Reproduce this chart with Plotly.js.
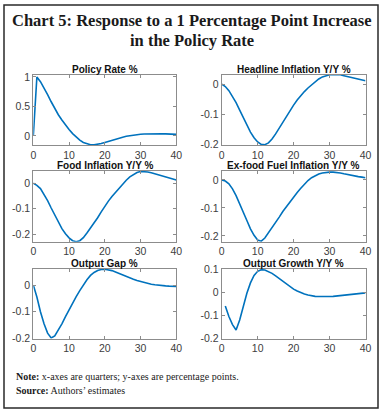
<!DOCTYPE html>
<html><head><meta charset="utf-8">
<script src="https://cdn.plot.ly/plotly-3.0.1.min.js"></script>
<style>html,body{margin:0;padding:0;background:#fff;}#chart{width:383px;height:413px;}</style>
</head><body><div id="chart"></div>
<script>
// Quarters
const quarters = Array.from({length: 41}, (_, i) => i);
const quartersGrowth = Array.from({length: 40}, (_, i) => i + 1);

// Responses (percentage points)
const policyRate = [0, 1.0, 0.92, 0.82, 0.70, 0.58, 0.46, 0.36, 0.27, 0.18, 0.11, 0.04, -0.02, -0.07, -0.11, -0.135, -0.148, -0.15, -0.142, -0.128, -0.11, -0.09, -0.07, -0.05, -0.035, -0.02, -0.006, 0.005, 0.015, 0.022, 0.028, 0.033, 0.036, 0.038, 0.039, 0.039, 0.038, 0.036, 0.033, 0.03, 0.027];
const headlineInflation = [0, -0.008, -0.022, -0.04, -0.062, -0.087, -0.112, -0.137, -0.16, -0.179, -0.193, -0.201, -0.202, -0.196, -0.183, -0.166, -0.146, -0.127, -0.106, -0.087, -0.07, -0.053, -0.038, -0.025, -0.013, -0.003, 0.008, 0.017, 0.024, 0.028, 0.031, 0.032, 0.032, 0.031, 0.028, 0.025, 0.022, 0.019, 0.016, 0.013, 0.011];
const foodInflation = [0, -0.008, -0.021, -0.042, -0.068, -0.097, -0.125, -0.152, -0.178, -0.198, -0.214, -0.225, -0.229, -0.225, -0.213, -0.195, -0.176, -0.158, -0.135, -0.112, -0.09, -0.07, -0.052, -0.035, -0.018, -0.003, 0.012, 0.025, 0.035, 0.042, 0.046, 0.046, 0.044, 0.041, 0.037, 0.033, 0.029, 0.024, 0.02, 0.016, 0.013];
const exFoodFuelInflation = [0, -0.004, -0.014, -0.032, -0.056, -0.084, -0.115, -0.145, -0.175, -0.198, -0.215, -0.219, -0.208, -0.19, -0.17, -0.152, -0.133, -0.113, -0.095, -0.077, -0.06, -0.045, -0.03, -0.014, -0.002, 0.008, 0.016, 0.021, 0.025, 0.027, 0.028, 0.028, 0.027, 0.025, 0.022, 0.019, 0.016, 0.014, 0.012, 0.01, 0.008];
const outputGap = [0, -0.045, -0.1, -0.145, -0.18, -0.198, -0.19, -0.17, -0.145, -0.118, -0.092, -0.067, -0.043, -0.021, 0, 0.02, 0.036, 0.047, 0.054, 0.058, 0.059, 0.057, 0.054, 0.049, 0.043, 0.038, 0.032, 0.027, 0.022, 0.017, 0.013, 0.009, 0.006, 0.003, 0.001, -0.001, -0.002, -0.003, -0.004, -0.005, -0.005];
const outputGrowth = [-0.06, -0.105, -0.14, -0.163, -0.12, -0.06, -0.005, 0.04, 0.072, 0.09, 0.097, 0.096, 0.09, 0.081, 0.07, 0.058, 0.045, 0.033, 0.022, 0.013, 0.005, -0.002, -0.008, -0.012, -0.016, -0.018, -0.019, -0.02, -0.02, -0.019, -0.018, -0.016, -0.014, -0.013, -0.011, -0.009, -0.008, -0.006, -0.004, -0.003];

const panelTitles = ['Policy Rate %', 'Headline Inflation Y/Y %', 'Food Inflation Y/Y %', 'Ex-food Fuel Inflation Y/Y %', 'Output Gap %', 'Output Growth Y/Y %'];
const xTicks = [0, 10, 20, 30, 40];
const yTickSets = [[0, 0.5, 1], [-0.2, -0.1, 0], [-0.2, -0.1, 0], [-0.2, -0.1, 0], [-0.2, -0.1, 0], [-0.2, -0.1, 0, 0.1]];
const yTickLabels = [['0', '0.5', '1'], ['-0.2', '-0.1', '0'], ['-0.2', '-0.1', '0'], ['-0.2', '-0.1', '0'], ['-0.2', '-0.1', '0'], ['-0.2', '-0.1', '0', '0.1']];
const yRanges = [[-0.153, 1.042], [-0.203, 0.032], [-0.229, 0.048], [-0.221, 0.032], [-0.2, 0.06], [-0.2, 0.1]];

const W = 383, H = 413;
const series = [[quarters, policyRate], [quarters, headlineInflation], [quarters, foodInflation], [quarters, exFoodFuelInflation], [quarters, outputGap], [quartersGrowth, outputGrowth]];
const colsPx = [[33.3, 176.3], [221.7, 365.5]];
const rowsPx = [[74.5, 145], [171, 241.7], [269, 338.5]];

const traces = [];
const layout = {
  width: W, height: H, margin: {l: 0, r: 0, t: 0, b: 0},
  paper_bgcolor: '#fff', plot_bgcolor: '#fff', showlegend: false,
  font: {family: 'Liberation Sans, Arial, sans-serif', size: 10.5, color: '#404040'},
  annotations: [], shapes: []
};
const axisStyle = {showline: true, mirror: 'allticks', linecolor: '#8c8c8c', linewidth: 1, ticks: 'inside', ticklen: 3, tickcolor: '#8c8c8c', showgrid: false, zeroline: false, fixedrange: true, tickfont: {size: 10.5, color: '#404040'}};

series.forEach((s, i) => {
  const c = i % 2, r = Math.floor(i / 2);
  const n = i + 1;
  const xa = n === 1 ? 'xaxis' : 'xaxis' + n;
  const ya = n === 1 ? 'yaxis' : 'yaxis' + n;
  traces.push({x: s[0], y: s[1], type: 'scatter', mode: 'lines', line: {color: '#0072BD', width: 1.6}, xaxis: 'x' + (n === 1 ? '' : n), yaxis: 'y' + (n === 1 ? '' : n), hoverinfo: 'skip'});
  layout[xa] = Object.assign({}, axisStyle, {domain: [colsPx[c][0] / W, colsPx[c][1] / W], range: [0, 40], tickvals: xTicks, ticktext: xTicks.map(String), anchor: 'y' + (n === 1 ? '' : n)});
  layout[ya] = Object.assign({}, axisStyle, {domain: [1 - rowsPx[r][1] / H, 1 - rowsPx[r][0] / H], range: yRanges[i], tickvals: yTickSets[i], ticktext: yTickLabels[i], anchor: 'x' + (n === 1 ? '' : n)});
  layout.annotations.push({text: '<b>' + panelTitles[i] + '</b>', xref: 'paper', yref: 'paper', x: (colsPx[c][0] + colsPx[c][1]) / 2 / W, y: 1 - rowsPx[r][0] / H, xanchor: 'center', yanchor: 'bottom', yshift: -2, showarrow: false, font: {family: 'Liberation Sans, Arial, sans-serif', size: 10, color: '#111'}});
});

// Main title
layout.annotations.push({text: '<b>Chart 5: Response to a 1 Percentage Point Increase</b>', xref: 'paper', yref: 'paper', x: 191.5 / W, y: 1 - 20.7 / H, xanchor: 'center', yanchor: 'middle', showarrow: false, font: {family: 'Liberation Serif, Times New Roman, serif', size: 16.5, color: '#1a1a1a'}});
layout.annotations.push({text: '<b>in the Policy Rate</b>', xref: 'paper', yref: 'paper', x: 191.5 / W, y: 1 - 40 / H, xanchor: 'center', yanchor: 'middle', showarrow: false, font: {family: 'Liberation Serif, Times New Roman, serif', size: 16.5, color: '#1a1a1a'}});
// Footer
layout.annotations.push({text: '<b>Note:</b> x-axes are quarters; y-axes are percentage points.', xref: 'paper', yref: 'paper', x: 14 / W, y: 1 - 376.7 / H, xanchor: 'left', yanchor: 'middle', showarrow: false, font: {family: 'Liberation Serif, Times New Roman, serif', size: 10, color: '#1a1a1a'}});
layout.annotations.push({text: '<b>Source:</b> Authors\u2019 estimates', xref: 'paper', yref: 'paper', x: 14 / W, y: 1 - 390.7 / H, xanchor: 'left', yanchor: 'middle', showarrow: false, font: {family: 'Liberation Serif, Times New Roman, serif', size: 10, color: '#1a1a1a'}});
// Outer frame
layout.shapes.push({type: 'rect', xref: 'paper', yref: 'paper', x0: 4 / W, x1: 378 / W, y0: 1 - 408 / H, y1: 1 - 5 / H, line: {color: '#2a2a2a', width: 1.5}, fillcolor: 'rgba(0,0,0,0)'});

Plotly.newPlot('chart', traces, layout, {staticPlot: true, displayModeBar: false});
</script></body></html>
